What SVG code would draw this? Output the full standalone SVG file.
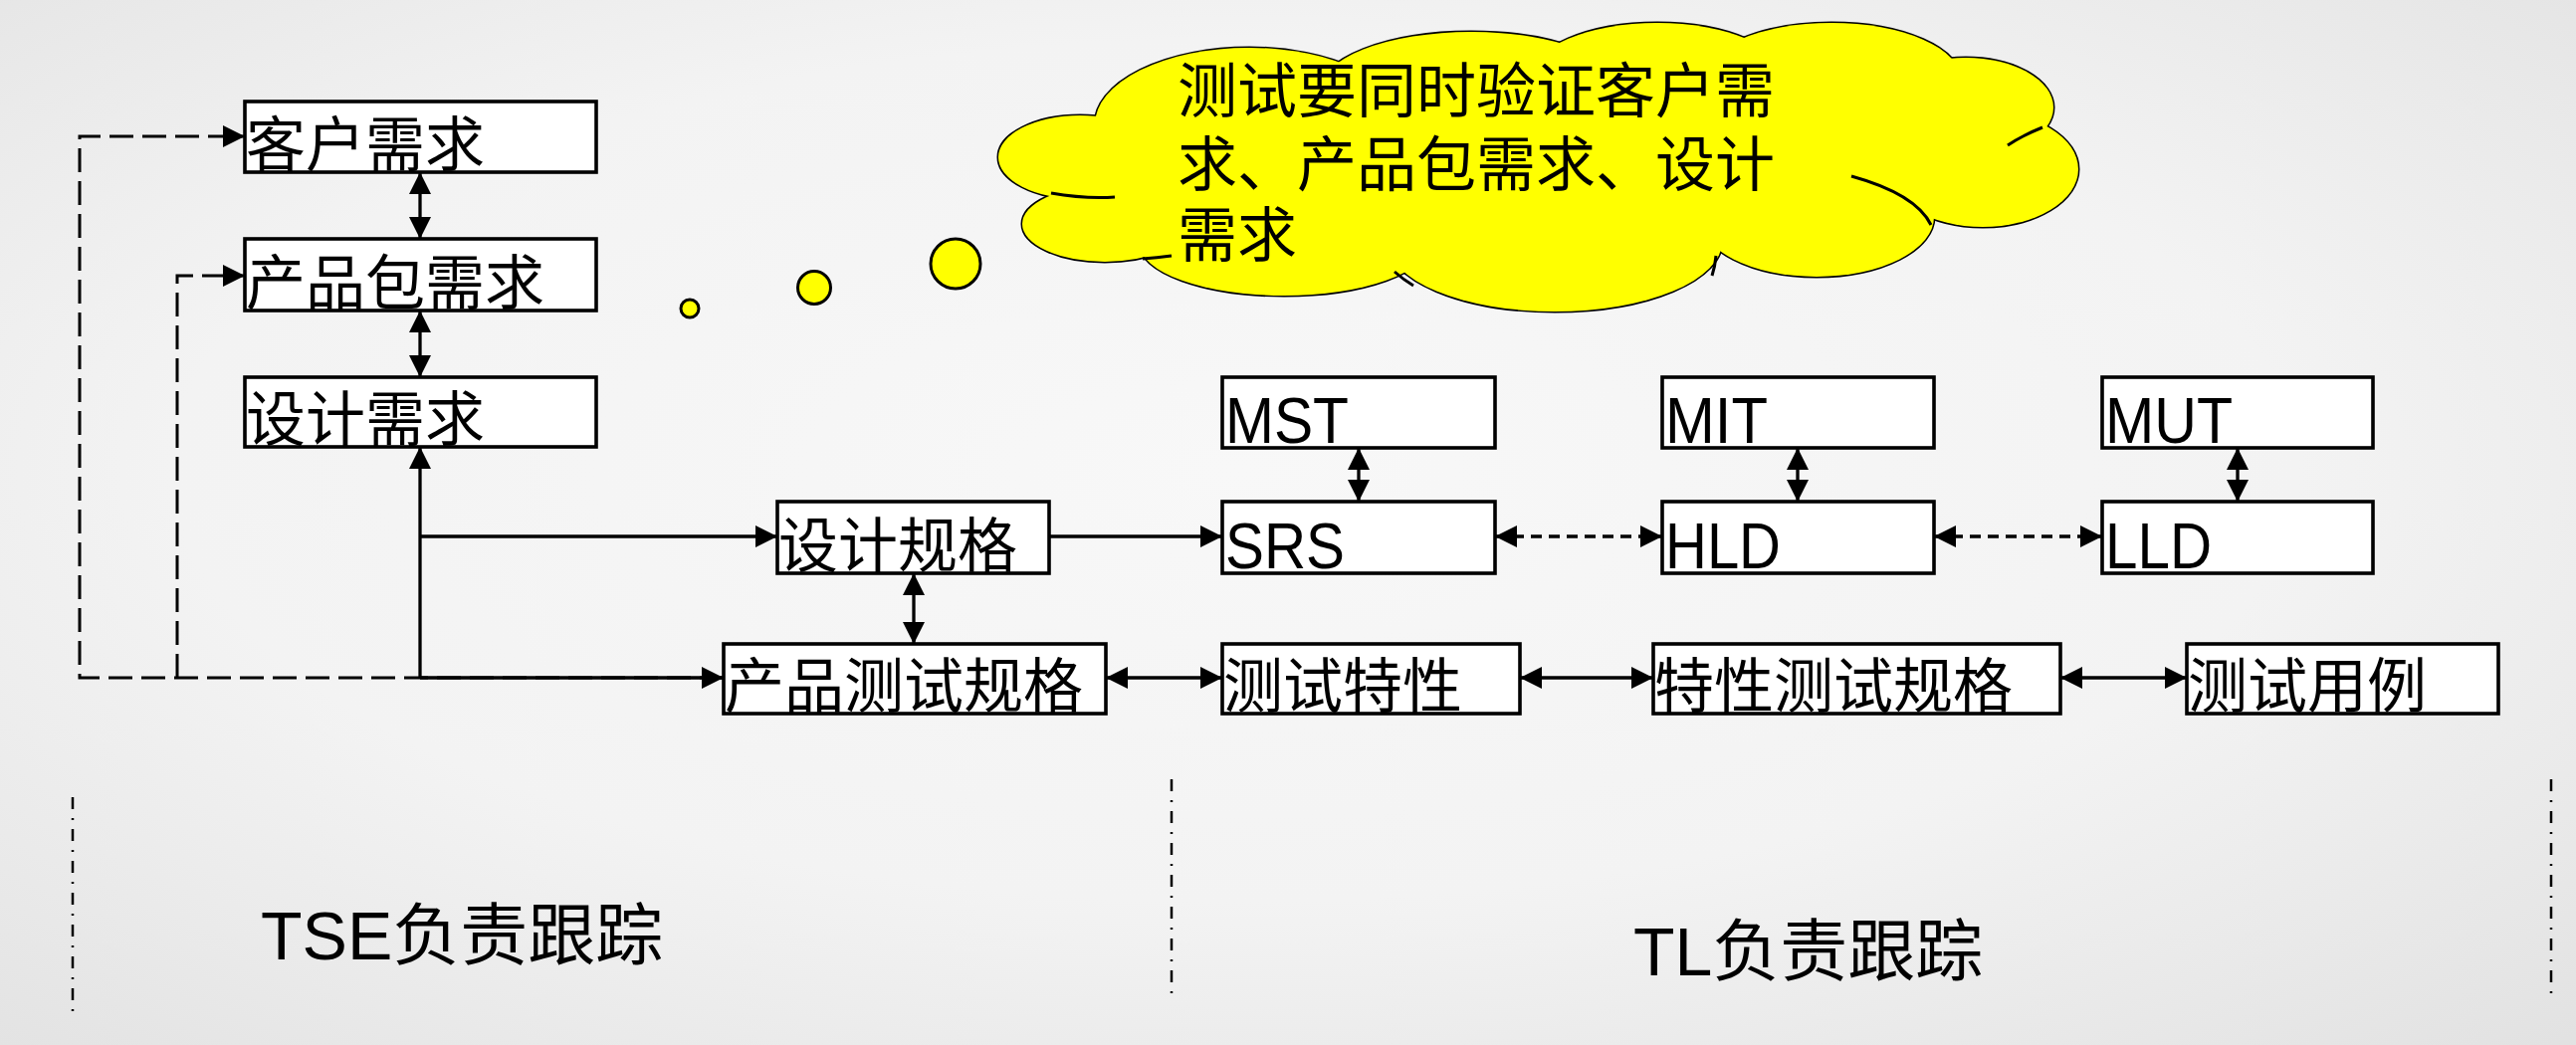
<svg xmlns="http://www.w3.org/2000/svg" width="2588" height="1050" viewBox="0 0 2588 1050">
<style>
.box{fill:#fff;stroke:#000;stroke-width:3.6}
.t{font-family:'Liberation Sans','Noto Sans CJK SC',sans-serif;font-size:60px;fill:#000}
.lt{font-family:'Liberation Sans','Noto Sans CJK SC',sans-serif;font-size:64px;fill:#000}
.big{font-family:'Liberation Sans','Noto Sans CJK SC',sans-serif;font-size:68px;fill:#000}
.ln{fill:none;stroke:#000;stroke-width:3.3}
.dash{fill:none;stroke:#000;stroke-width:3;stroke-dasharray:24 9}
.sdash{fill:none;stroke:#000;stroke-width:3.3;stroke-dasharray:11 7}
.sep{fill:none;stroke:#000;stroke-width:2.5;stroke-dasharray:12 9 2 9}
.cl{fill:#ffff00;stroke:#000;stroke-width:3}
.clf{fill:#ffff00;stroke:none}
.ca{fill:none;stroke:#000;stroke-width:3}
</style>
<defs>
<radialGradient id="bg" cx="0.48" cy="0.45" r="0.75">
<stop offset="0" stop-color="#f8f8f8"/>
<stop offset="0.55" stop-color="#f3f3f3"/>
<stop offset="1" stop-color="#e2e2e2"/>
</radialGradient>
<marker id="arr" markerUnits="userSpaceOnUse" markerWidth="22" markerHeight="22" refX="22" refY="11" orient="auto-start-reverse" viewBox="0 0 22 22">
<path d="M0,0 L22,11 L0,22 Z" fill="#000"/>
</marker>
</defs>
<rect width="2588" height="1050" fill="url(#bg)"/>

<g id="separators">
<line class="sep" x1="73" y1="801" x2="73" y2="1023"/>
<line class="sep" x1="1177" y1="783" x2="1177" y2="1007"/>
<line class="sep" x1="2563" y1="783" x2="2563" y2="1007"/>
</g>

<g id="callout">
<circle class="cl" cx="693" cy="310" r="9"/>
<circle class="cl" cx="818" cy="289" r="16.5"/>
<circle class="cl" cx="960" cy="265" r="25"/>
<g class="cl">
<ellipse cx="1085" cy="158" rx="82" ry="42"/>
<ellipse cx="1110" cy="225" rx="83" ry="38"/>
<ellipse cx="1290" cy="245" rx="145" ry="52"/>
<ellipse cx="1562" cy="243" rx="168" ry="70"/>
<ellipse cx="1825" cy="218" rx="118" ry="60"/>
<ellipse cx="1992" cy="170" rx="96" ry="58"/>
<ellipse cx="1975" cy="108" rx="88" ry="50"/>
<ellipse cx="1840" cy="80" rx="130" ry="57"/>
<ellipse cx="1665" cy="78" rx="127" ry="55"/>
<ellipse cx="1478" cy="92" rx="153" ry="60"/>
<ellipse cx="1255" cy="125" rx="155" ry="77"/>
</g>
<g class="clf">
<ellipse cx="1085" cy="158" rx="82" ry="42"/>
<ellipse cx="1110" cy="225" rx="83" ry="38"/>
<ellipse cx="1290" cy="245" rx="145" ry="52"/>
<ellipse cx="1562" cy="243" rx="168" ry="70"/>
<ellipse cx="1825" cy="218" rx="118" ry="60"/>
<ellipse cx="1992" cy="170" rx="96" ry="58"/>
<ellipse cx="1975" cy="108" rx="88" ry="50"/>
<ellipse cx="1840" cy="80" rx="130" ry="57"/>
<ellipse cx="1665" cy="78" rx="127" ry="55"/>
<ellipse cx="1478" cy="92" rx="153" ry="60"/>
<ellipse cx="1255" cy="125" rx="155" ry="77"/>
<ellipse cx="1550" cy="165" rx="430" ry="95"/>
</g>
<g class="ca">
<path d="M1056,194 Q1090,200 1120,198"/>
<path d="M1148,260 Q1162,259 1177,257"/>
<path d="M1401,273 Q1410,281 1420,287"/>
<path d="M1724,257 Q1723,268 1720,277"/>
<path d="M1860,177 Q1925,195 1940,226"/>
<path d="M2017,146 Q2032,136 2052,128"/>
</g>
<text class="t" x="1183" y="113">测试要同时验证客户需</text>
<text class="t" x="1183" y="187">求、产品包需求、设计</text>
<text class="t" x="1183" y="258">需求</text>
</g>

<g id="connectors">
<path class="dash" d="M727,681 L80,681 L80,137 L246,137" marker-end="url(#arr)"/>
<path class="dash" d="M178,681 L178,277 L246,277" marker-end="url(#arr)"/>
<path class="ln" d="M422,681 L422,449" marker-end="url(#arr)"/>
<path class="ln" d="M422,539 L781,539" marker-end="url(#arr)"/>
<path class="ln" d="M422,681 L727,681" marker-end="url(#arr)"/>
<path class="ln" d="M1054,539 L1228,539" marker-end="url(#arr)"/>
<path class="ln" d="M422,173 L422,240" marker-start="url(#arr)" marker-end="url(#arr)"/>
<path class="ln" d="M422,312 L422,379" marker-start="url(#arr)" marker-end="url(#arr)"/>
<path class="ln" d="M918,576 L918,647" marker-start="url(#arr)" marker-end="url(#arr)"/>
<path class="ln" d="M1111,681 L1228,681" marker-start="url(#arr)" marker-end="url(#arr)"/>
<path class="ln" d="M1527,681 L1661,681" marker-start="url(#arr)" marker-end="url(#arr)"/>
<path class="ln" d="M2070,681 L2197,681" marker-start="url(#arr)" marker-end="url(#arr)"/>
<path class="ln" d="M1365,450 L1365,504" marker-start="url(#arr)" marker-end="url(#arr)"/>
<path class="ln" d="M1806,450 L1806,504" marker-start="url(#arr)" marker-end="url(#arr)"/>
<path class="ln" d="M2248,450 L2248,504" marker-start="url(#arr)" marker-end="url(#arr)"/>
<path class="sdash" d="M1502,539 L1670,539" marker-start="url(#arr)" marker-end="url(#arr)"/>
<path class="sdash" d="M1943,539 L2112,539" marker-start="url(#arr)" marker-end="url(#arr)"/>
</g>

<g id="n-kehu"><rect class="box" x="246" y="102" width="353" height="71"/><text class="t" x="247" y="167">客户需求</text></g>
<g id="n-chanpinbao"><rect class="box" x="246" y="240" width="353" height="72"/><text class="t" x="247" y="306">产品包需求</text></g>
<g id="n-sheji"><rect class="box" x="246" y="379" width="353" height="70"/><text class="t" x="247" y="443">设计需求</text></g>
<g id="n-shejiguige"><rect class="box" x="781" y="504" width="273" height="72"/><text class="t" x="782" y="570">设计规格</text></g>
<g id="n-chanpinceshi"><rect class="box" x="727" y="647" width="384" height="70"/><text class="t" x="728" y="711">产品测试规格</text></g>
<g id="n-mst"><rect class="box" x="1228" y="379" width="274" height="71"/><text class="lt" x="1231" y="445" textLength="124" lengthAdjust="spacingAndGlyphs">MST</text></g>
<g id="n-srs"><rect class="box" x="1228" y="504" width="274" height="72"/><text class="lt" x="1231" y="571" textLength="120" lengthAdjust="spacingAndGlyphs">SRS</text></g>
<g id="n-mit"><rect class="box" x="1670" y="379" width="273" height="71"/><text class="lt" x="1673" y="445" textLength="103" lengthAdjust="spacingAndGlyphs">MIT</text></g>
<g id="n-hld"><rect class="box" x="1670" y="504" width="273" height="72"/><text class="lt" x="1673" y="571" textLength="116" lengthAdjust="spacingAndGlyphs">HLD</text></g>
<g id="n-mut"><rect class="box" x="2112" y="379" width="272" height="71"/><text class="lt" x="2115" y="445" textLength="128" lengthAdjust="spacingAndGlyphs">MUT</text></g>
<g id="n-lld"><rect class="box" x="2112" y="504" width="272" height="72"/><text class="lt" x="2115" y="571" textLength="107" lengthAdjust="spacingAndGlyphs">LLD</text></g>
<g id="n-ceshitexing"><rect class="box" x="1228" y="647" width="299" height="70"/><text class="t" x="1229" y="711">测试特性</text></g>
<g id="n-texingceshi"><rect class="box" x="1661" y="647" width="409" height="70"/><text class="t" x="1662" y="711">特性测试规格</text></g>
<g id="n-yongli"><rect class="box" x="2197" y="647" width="313" height="70"/><text class="t" x="2198" y="711">测试用例</text></g>

<g id="labels">
<text class="big" x="262" y="964">TSE负责跟踪</text>
<text class="big" x="1641" y="980">TL负责跟踪</text>
</g>
</svg>
